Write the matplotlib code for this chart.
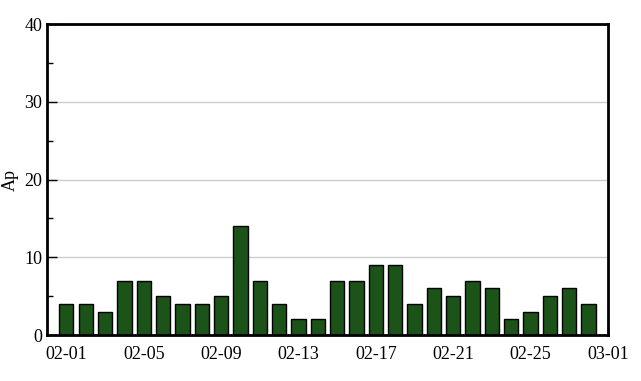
import matplotlib
matplotlib.use("Agg")
import matplotlib.pyplot as plt
import matplotlib.dates as mdates
from matplotlib.ticker import MultipleLocator
import datetime as dt

dates = [dt.date(2023, 2, d) for d in range(1, 29)]
ap_values = [4, 4, 3, 7, 7, 5, 4, 4, 5, 14, 7, 4, 2, 2, 7, 7, 9, 9, 4, 6, 5, 7, 6, 2, 3, 5, 6, 4]
y_label = "Ap"

plt.rcParams['font.family'] = ['Liberation Serif', 'DejaVu Serif']

fig = plt.figure(figsize=(6.41, 3.81), dpi=100)
ax = fig.add_axes([0.0733, 0.1207, 0.8752, 0.8163])

ax.bar(dates, ap_values, width=0.74, color='#1b5318', edgecolor='black', linewidth=1.0, zorder=3)

ax.set_xlim(dt.date(2023, 1, 31), dt.date(2023, 3, 1))
ax.set_ylim(0, 40)
ax.xaxis.set_major_locator(mdates.DayLocator(bymonthday=[1, 5, 9, 13, 17, 21, 25]))
ax.xaxis.set_minor_locator(mdates.DayLocator(bymonthday=[3, 7, 11, 15, 19, 23, 27]))
ax.xaxis.set_major_formatter(mdates.DateFormatter('%m-%d'))
ax.yaxis.set_major_locator(MultipleLocator(10))
ax.yaxis.set_minor_locator(MultipleLocator(5))

ax.grid(axis='y', color='#cccccc', linewidth=1.0, zorder=0)
for s in ax.spines.values():
    s.set_linewidth(2.0)
    s.set_zorder(4)
ax.tick_params(which='both', direction='in', labelsize=13, top=False, right=False, width=1.0)
ax.tick_params(which='major', length=7)
ax.tick_params(which='minor', length=4)
ax.tick_params(axis='x', pad=8)
ax.set_ylabel(y_label, fontsize=13)

fig.savefig('out.png', dpi=100)
